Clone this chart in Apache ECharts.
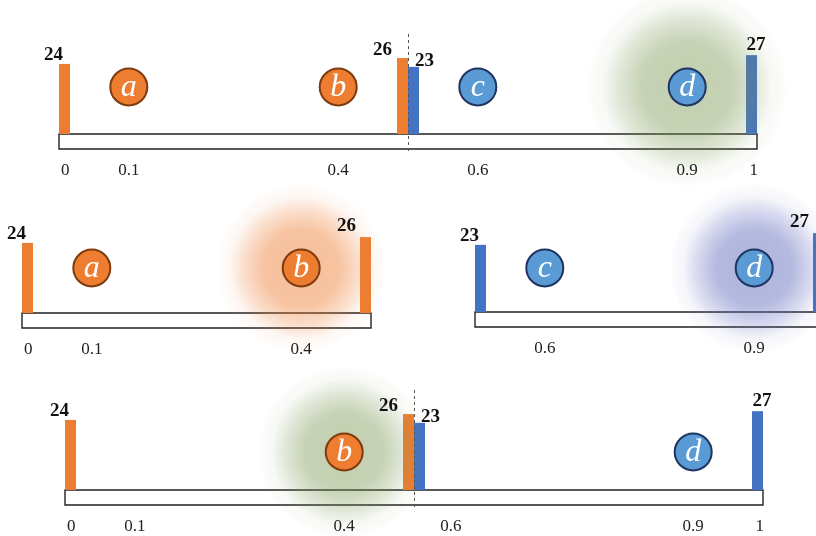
<!DOCTYPE html>
<html><head><meta charset="utf-8">
<script src="https://cdn.jsdelivr.net/npm/echarts@6/dist/echarts.min.js"></script>
<style>html,body{margin:0;padding:0;background:#fff}#c{width:816px;height:536px}</style>
</head><body><div id="c"></div>
<script>
// ---------------- data ----------------
const circleNames = ['a', 'b', 'c', 'd'];
const circleX = [0.1, 0.4, 0.6, 0.9];
const circleGroup = ['orange', 'orange', 'blue', 'blue'];
const orangeBarX = [0, 0.5];
const orangeBarValues = [24, 26];
const blueBarX = [0.5, 1];
const blueBarValues = [23, 27];
const splitX = 0.5;
const tickLabels = ['0', '0.1', '0.4', '0.6', '0.9', '1'];
const tickValues = [0, 0.1, 0.4, 0.6, 0.9, 1];
const bottomTickValues = [0, 0.1, 0.4, 0.553, 0.9, 1];

// ---------------- styles / layout ----------------
const COL = {
  orange: { bar: '#ED7D31', fill: '#ED7D31', stroke: '#7F3A0E' },
  blue:   { bar: '#4472C4', fill: '#5B9BD5', stroke: '#1F3460' }
};
const GLOW = {
  green:  [120, 150, 80, 0.46],
  orange: [237, 125, 49, 0.5],
  blue:   [100, 110, 190, 0.52]
};
const PX_PER_UNIT = 2.92;
const PX_PER_X = 698;
const YMAX = 30;
const BAR_W = 11;
const CANVAS_W = 816;

const panels = [
  { left: 59, base: 134, xmin: 0, xmax: 1, circles: [0, 1, 2, 3], glow: { idx: 3, col: 'green', r: 100 },
    bars: ['orange', 'blue'], dashed: true, ticks: [0, 1, 2, 3, 4, 5], tv: tickValues, cy: 47, endMode: 'center', edgeTicks: true },
  { left: 22, base: 313, xmin: 0, xmax: 0.5, circles: [0, 1], glow: { idx: 1, col: 'orange', r: 84 },
    bars: ['orange'], dashed: false, ticks: [0, 1, 2], tv: tickValues, cy: 45, endMode: 'left', edgeTicks: true },
  { left: 475, base: 312, xmin: 0.5, xmax: 1, circles: [2, 3], glow: { idx: 3, col: 'blue', r: 84 },
    bars: ['blue'], dashed: false, ticks: [3, 4, 5], tv: tickValues, cy: 44, endMode: 'left', edgeTicks: false },
  { left: 65, base: 490, xmin: 0, xmax: 1, circles: [1, 3], glow: { idx: 1, col: 'green', r: 86 },
    bars: ['orange', 'blue'], dashed: true, ticks: [0, 1, 2, 3, 4, 5], tv: bottomTickValues, cy: 38, endMode: 'center', edgeTicks: true }
];

const SERIF = '"Liberation Serif", "DejaVu Serif", serif';
const grids = [], xAxes = [], yAxes = [], series = [];

panels.forEach((p, pi) => {
  const h = YMAX * PX_PER_UNIT;
  // grid must stay inside the canvas; the axis range is cut accordingly
  const fullW = (p.xmax - p.xmin) * PX_PER_X;
  const gw = Math.min(fullW, CANVAS_W - p.left);
  const axisMax = p.xmin + gw / PX_PER_X;
  grids.push({ left: p.left, width: gw, top: p.base - h, height: h, containLabel: false });
  xAxes.push({ type: 'value', gridIndex: pi, min: p.xmin, max: axisMax, show: false });
  yAxes.push({ type: 'value', gridIndex: pi, min: 0, max: YMAX, show: false });
  const common = { type: 'custom', xAxisIndex: pi, yAxisIndex: pi, clip: false, silent: true, animation: false };

  // axis box
  series.push(Object.assign({}, common, {
    z: 1, data: [[p.xmin, p.xmax]],
    renderItem: (params, api) => {
      const a = api.coord([api.value(0), 0]), b = api.coord([api.value(1), 0]);
      return { type: 'rect', shape: { x: a[0], y: a[1], width: b[0] - a[0], height: 15 },
        style: { fill: '#fff', stroke: '#222', lineWidth: 1.4 } };
    }
  }));

  // bars
  const barData = [];
  const both = p.bars.length > 1;
  p.bars.forEach(g => {
    const xs = g === 'orange' ? orangeBarX : blueBarX;
    const vs = g === 'orange' ? orangeBarValues : blueBarValues;
    xs.forEach((x, i) => {
      if (x < p.xmin - 1e-9 || x > p.xmax + 1e-9) return;
      barData.push({ value: [x, vs[i], i === 0 ? 0 : 1], group: g });
    });
  });
  series.push(Object.assign({}, common, {
    z: 2, data: barData,
    renderItem: (params, api) => {
      const item = barData[params.dataIndex];
      const x = api.value(0), v = api.value(1), isStart = api.value(2) === 0;
      const top = api.coord([x, v]), bot = api.coord([x, 0]);
      const x0 = isStart ? bot[0] : bot[0] - BAR_W;
      return { type: 'rect', shape: { x: x0, y: top[1], width: BAR_W, height: bot[1] - top[1] },
        style: { fill: COL[item.group].bar } };
    }
  }));
  // bar value labels
  series.push(Object.assign({}, common, {
    z: 6, data: barData,
    renderItem: (params, api) => {
      const item = barData[params.dataIndex];
      const x = api.value(0), v = api.value(1), isStart = api.value(2) === 0;
      const top = api.coord([x, v]), bot = api.coord([x, 0]);
      const x0 = isStart ? bot[0] : bot[0] - BAR_W;
      const partnered = both && x === splitX;
      let tx, align, ty = top[1] - 9;
      if (partnered) {
        if (item.group === 'orange') { tx = x0 - 5; align = 'right'; ty = top[1] - 8; }
        else { tx = x0 + BAR_W - 4; align = 'left'; ty = top[1] - 6; }
      } else if (isStart) { tx = x0 + 4; align = 'right'; }
      else if (p.endMode === 'center') { tx = x0 + BAR_W - 1; align = 'center'; ty = top[1] - 10; }
      else { tx = x0 - 4; align = 'right'; ty = top[1] - 11; }
      return { type: 'text', x: tx, y: ty,
        style: { text: String(v), fill: '#111', font: 'bold 19px ' + SERIF, align: align, verticalAlign: 'middle' } };
    }
  }));

  // dashed split line
  if (p.dashed) {
    series.push(Object.assign({}, common, {
      z: 3, data: [[splitX]],
      renderItem: (params, api) => {
        const c = api.coord([api.value(0), 0]);
        return { type: 'line', shape: { x1: c[0] + 0.5, y1: c[1] - 100, x2: c[0] + 0.5, y2: c[1] + 18 },
          style: { stroke: '#555', lineWidth: 1, lineDash: [3, 3] } };
      }
    }));
  }

  // glow
  const gc = GLOW[p.glow.col];
  const rgba = a => `rgba(${gc[0]},${gc[1]},${gc[2]},${a})`;
  series.push(Object.assign({}, common, {
    z: 4, data: [[circleX[p.glow.idx]]],
    renderItem: (params, api) => {
      const c = api.coord([api.value(0), 0]);
      return { type: 'circle', shape: { cx: c[0], cy: c[1] - p.cy, r: p.glow.r },
        style: { fill: new echarts.graphic.RadialGradient(0.5, 0.5, 0.5, [
          { offset: 0, color: rgba(gc[3]) },
          { offset: 0.45, color: rgba(gc[3] * 0.92) },
          { offset: 0.68, color: rgba(gc[3] * 0.5) },
          { offset: 0.85, color: rgba(gc[3] * 0.12) },
          { offset: 0.97, color: rgba(gc[3] * 0.05) },
          { offset: 1, color: rgba(0) }
        ]) } };
    }
  }));

  // circles
  const cData = p.circles.map(i => ({ value: [circleX[i]], name: circleNames[i], group: circleGroup[i] }));
  series.push(Object.assign({}, common, {
    z: 5, data: cData,
    renderItem: (params, api) => {
      const it = cData[params.dataIndex];
      const c = api.coord([api.value(0), 0]);
      const cy = c[1] - p.cy;
      return { type: 'group', children: [
        { type: 'circle', shape: { cx: c[0], cy: cy, r: 18.5 },
          style: { fill: COL[it.group].fill, stroke: COL[it.group].stroke, lineWidth: 2 } },
        { type: 'text', x: c[0], y: cy + 1,
          style: { text: it.name, fill: '#fff', font: 'italic 32px ' + SERIF, align: 'center', verticalAlign: 'middle' } }
      ] };
    }
  }));

  // tick labels
  const tData = p.ticks.map(i => ({ value: [p.tv[i]], label: tickLabels[i] }));
  series.push(Object.assign({}, common, {
    z: 6, data: tData,
    renderItem: (params, api) => {
      const it = tData[params.dataIndex];
      const x = api.value(0);
      const c = api.coord([x, 0]);
      let align = 'center', tx = c[0];
      if (p.edgeTicks && x === 0) { align = 'left'; tx = c[0] + 2; }
      else if (p.edgeTicks && x === 1) { align = 'right'; tx = c[0] + 1; }
      return { type: 'text', x: tx, y: c[1] + 37,
        style: { text: it.label, fill: '#222', font: '17px ' + SERIF, align: align, verticalAlign: 'middle' } };
    }
  }));
});

const chart = echarts.init(document.getElementById('c'), null, { renderer: 'canvas' });
chart.setOption({ animation: false, grid: grids, xAxis: xAxes, yAxis: yAxes, series: series });
</script></body></html>
